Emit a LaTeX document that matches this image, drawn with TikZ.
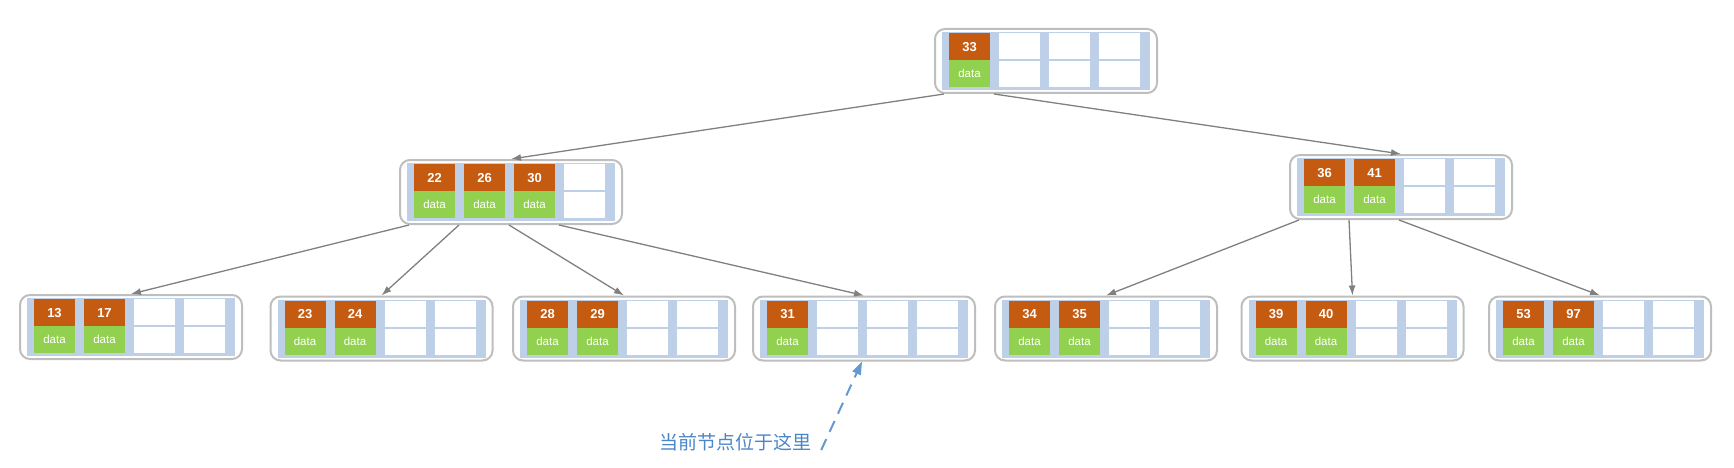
\documentclass[tikz,border=0pt]{standalone}
\usepackage{fontspec}
\setmainfont{Liberation Sans}
\newfontfamily\cjkfont{Noto Sans CJK SC}
\usepackage{xcolor}
\usepackage{tikz}
\usetikzlibrary{calc, arrows.meta}

\definecolor{keyorange}{HTML}{C55A11}
\definecolor{datagreen}{HTML}{92D050}
\definecolor{bandblue}{HTML}{BDD0E8}
\definecolor{pagegray}{HTML}{BEBEBE}
\definecolor{linkgray}{HTML}{808080}
\definecolor{noteblue}{HTML}{4A86C8}

% one tree page: centre, name, keys
\newcommand{\bpage}[3]{%
  \node[page] (#2) at (#1) {};
  \fill[bandblue] ($(#2.north west)+(8,4)$) rectangle ($(#2.south east)+(-8,-4)$);
  \foreach \i in {0,...,3} {
    \node[emptycell] (#2-e\i) at ($(#2.north west)+(35.5+50*\i,18)$) {};
    \node[emptycell] (#2-f\i) at ($(#2.north west)+(35.5+50*\i,46)$) {};
  }
  \foreach \k [count=\i from 0] in {#3} {
    \node[keycell] (#2-k\i) at ($(#2.north west)+(35.5+50*\i,18.5)$) {\k};
    \node[datacell] (#2-d\i) at ($(#2.north west)+(35.5+50*\i,45.5)$) {data};
  }
  \foreach \i in {0,...,4}
    \coordinate (#2-p\i) at ($(#2.south west)+(10+50*\i,0)$);
}

\begin{document}
\begin{tikzpicture}[
    x=1pt, y=-1pt,
    page/.style={rectangle, draw=pagegray, line width=2pt, rounded corners=10pt, fill=white, minimum width=222pt, minimum height=64pt, inner sep=0pt},
    emptycell/.style={rectangle, fill=white, minimum width=41pt, minimum height=26pt, inner sep=0pt},
    keycell/.style={emptycell, minimum height=27pt, fill=keyorange, text=white, text height=9.5pt, text depth=0pt, font=\fontsize{13}{13}\selectfont\bfseries},
    datacell/.style={emptycell, minimum height=27pt, fill=datagreen, text=white, text height=8pt, text depth=0pt, font=\fontsize{11.5}{11.5}\selectfont},
    link/.style={draw=linkgray, line width=1.3pt, -{Latex[length=10pt,width=7pt]}},
    pointer/.style={draw=noteblue!85!white, line width=2pt, dash pattern=on 12pt off 8pt, -{Triangle[length=13pt,width=9pt]}}
]
\useasboundingbox (0,0) rectangle (1734,468);

\bpage{1046,61}{n33}{33}
\bpage{511,192}{n22}{22,26,30}
\bpage{1401,187}{n36}{36,41}
\bpage{131,327}{n13}{13,17}
\bpage{381.5,328.5}{n23}{23,24}
\bpage{624,328.5}{n28}{28,29}
\bpage{864,328.5}{n31}{31}
\bpage{1106,328.5}{n34}{34,35}
\bpage{1352.5,328.5}{n39}{39,40}
\bpage{1600,328.5}{n53}{53,97}

\draw[link] (n33-p0) -- (n22.north);
\draw[link] (n33-p1) -- (n36.north);
\draw[link] (n22-p0) -- (n13.north);
\draw[link] (n22-p1) -- (n23.north);
\draw[link] (n22-p2) -- (n28.north);
\draw[link] (n22-p3) -- (n31.north);
\draw[link] (n36-p0) -- (n34.north);
\draw[link] (n36-p1) -- (n39.north);
\draw[link] (n36-p2) -- (n53.north);

\node[inner sep=0pt, text=noteblue, font=\cjkfont\fontsize{19}{19}\selectfont] (note) at (735,442) {当前节点位于这里};
\draw[pointer] ([shift={(10,8)}]note.east) -- (n31-p2);

\end{tikzpicture}
\end{document}
